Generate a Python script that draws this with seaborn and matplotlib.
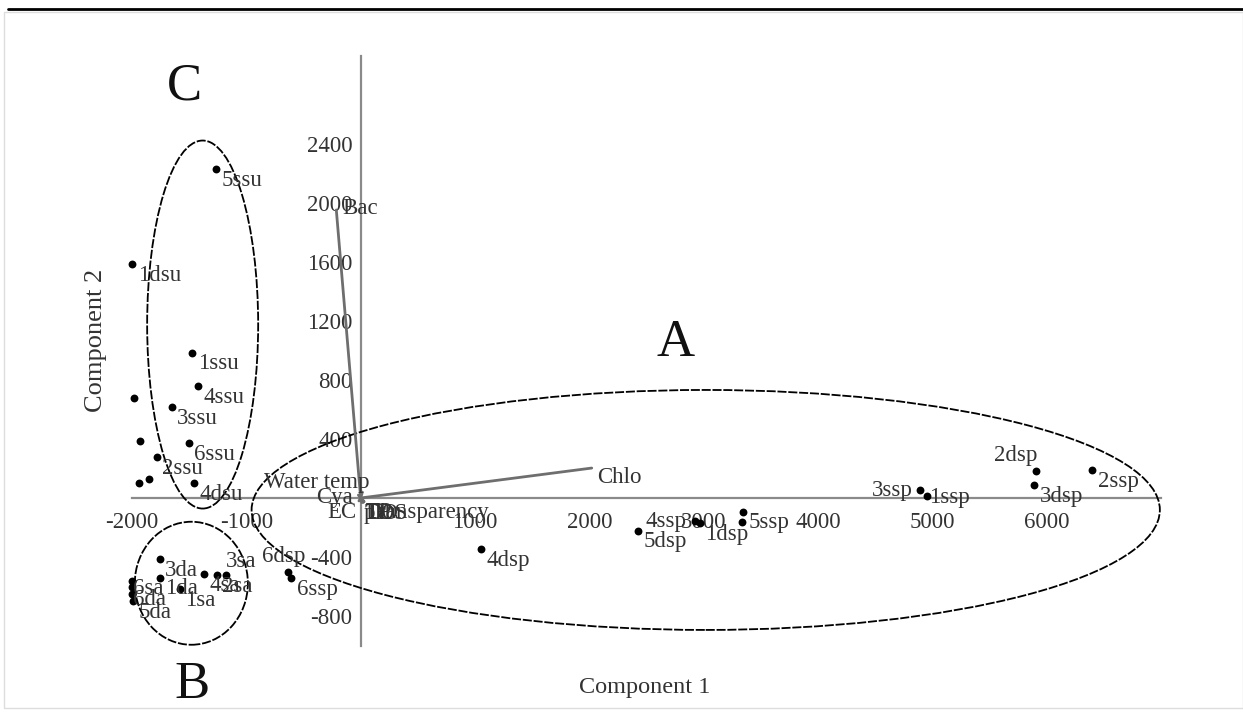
import matplotlib
matplotlib.use("Agg")
import matplotlib.pyplot as plt
import seaborn as sns
import pandas as pd
from matplotlib.patches import Ellipse, Rectangle
from matplotlib.lines import Line2D

# sample scores (Component 1, Component 2)
site_labels = ["5ssu", "1dsu", "1ssu", "4ssu", "", "3ssu", "", "6ssu", "2ssu", "", "", "4dsu",
               "3da", "1da", "1sa", "4sa", "2sa", "3sa", "6sa", "", "6da", "5da",
               "6dsp", "6ssp", "4dsp", "5dsp", "4ssp", "1dsp", "", "5ssp",
               "3ssp", "1ssp", "2dsp", "3dsp", "2ssp"]
pc1 = [-1269, -2000, -1473, -1423, -1986, -1654, -1934, -1502, -1782, -1852, -1942, -1458,
       -1759, -1759, -1584, -1374, -1260, -1181, -2000, -2000, -2000, -1995,
       -636, -606, 1056, 2426, 2922, 2966, 3331, 3345,
       4891, 4949, 5906, 5888, 6398]
pc2 = [2230, 1586, 985, 759, 676, 615, 389, 371, 276, 127, 100, 100,
       -415, -540, -617, -517, -522, -522, -560, -600, -650, -700,
       -500, -544, -348, -222, -156, -172, -160, -93,
       54, 14, 185, 88, 190]

# variable loadings (biplot vectors)
var_names = ["Bac", "Chlo", "Water temp", "Cya", "EC", "Transparency", "TDS", "DO", "pH", "TP"]
var_pc1 = [-213, 2021, 15, -20, -15, 30, 20, 25, 10, 28]
var_pc2 = [1953, 203, 40, 20, -20, -25, -30, -28, -30, -22]

# group ellipses: centre x, centre y, width, height
group_names = ["A", "B", "C"]
ell_cx = [3018, -1481, -1382]
ell_cy = [-81, -578, 1176]
ell_w = [7944, 989, 971]
ell_h = [1627, 834, 2495]

x_ticks = [-2000, -1000, 1000, 2000, 3000, 4000, 5000, 6000]
y_ticks = [-800, -400, 400, 800, 1200, 1600, 2000, 2400]

# label offsets (points) that differ from the default
point_offsets = {
    "3sa": (0, 10, "left"),
    "6dsp": (-3, 11, "center"),
    "4ssp": (-6, 0, "right"),
    "3ssp": (-5, 0, "right"),
    "1ssp": (2, -1, "left"),
    "2dsp": (1, 11, "right"),
    "6sa": (1, -6, "left"),
    "6da": (1, -4, "left"),
}
var_offsets = {
    "Bac": (4, 1, "left"),
    "Chlo": (4, -7, "left"),
    "Water temp": (5, 7, "right"),
    "Cya": (-4, -1.5, "right"),
    "EC": (-1.5, -8.5, "right"),
}

sns.set_style("white")
plt.rcParams["font.family"] = ["Liberation Serif", "DejaVu Serif"]
plt.rcParams["axes.unicode_minus"] = False

fig = plt.figure(figsize=(12.43, 7.12), dpi=100)
ax = fig.add_axes([132 / 1243, 1 - 645.5 / 712, 1029 / 1243, 590 / 712])

scores = pd.DataFrame({"pc1": pc1, "pc2": pc2, "label": site_labels})
sns.scatterplot(data=scores, x="pc1", y="pc2", color="black", s=32,
                edgecolor="black", linewidth=0, ax=ax, zorder=4, clip_on=False)

for lab, x, y in zip(site_labels, pc1, pc2):
    if not lab:
        continue
    dx, dy, ha = point_offsets.get(lab, (4, -8, "left"))
    ax.annotate(lab, (x, y), xytext=(dx, dy), textcoords="offset points",
                ha=ha, va="center", fontsize=16.5, color="#333333", zorder=5,
                annotation_clip=False)

for name, vx, vy in zip(var_names, var_pc1, var_pc2):
    ax.plot([0, vx], [0, vy], color="#6e6e6e", lw=2, zorder=3)
    dx, dy, ha = var_offsets.get(name, (1, -8, "left"))
    ax.annotate(name, (vx, vy), xytext=(dx, dy), textcoords="offset points",
                ha=ha, va="center", fontsize=16.5, color="#333333", zorder=5,
                annotation_clip=False)

for cx, cy, w, h in zip(ell_cx, ell_cy, ell_w, ell_h):
    ax.add_patch(Ellipse((cx, cy), w, h, fill=False, edgecolor="black",
                         lw=1.3, linestyle=(0, (5, 1)), clip_on=False, zorder=2))

# group letters
ax.text(2756, 1051, "A", fontsize=38, ha="center", va="center", color="#111111")
ax.text(-1479, -1268, "B", fontsize=38, ha="center", va="center", color="#111111", clip_on=False)
ax.text(-1540, 2790, "C", fontsize=38, ha="center", va="center", color="#111111")

ax.set_xlim(-2000, 7000)
ax.set_ylim(-1000, 3000)
ax.spines["left"].set_position(("data", 0))
ax.spines["bottom"].set_position(("data", 0))
ax.spines["top"].set_visible(False)
ax.spines["right"].set_visible(False)
for side in ["left", "bottom"]:
    ax.spines[side].set_color("#8a8a8a")
    ax.spines[side].set_linewidth(1.6)
    ax.spines[side].set_zorder(1)
ax.set_xticks(x_ticks)
ax.set_yticks(y_ticks)
ax.tick_params(axis="x", direction="in", length=4, width=1, color="#8a8a8a",
               pad=10, labelsize=16.5, labelcolor="#333333")
ax.tick_params(axis="y", direction="out", length=4, width=1, color="#8a8a8a",
               pad=2, labelsize=16.5, labelcolor="#333333")
ax.set_xlabel("")
ax.set_ylabel("")
ax.patch.set_alpha(0)

fig.text(645 / 1243, 1 - 688 / 712, "Component 1", fontsize=17.5, ha="center",
         va="center", color="#333333")
fig.text(96 / 1243, 1 - 340 / 712, "Component 2", fontsize=19, ha="center",
         va="center", rotation=90, color="#333333")

# page frame of the scanned figure
fig.add_artist(Rectangle((4 / 1243, 4 / 712), 1 - 4 / 1243, 1 - 16 / 712,
                         transform=fig.transFigure, fill=False,
                         edgecolor="#dddddd", lw=1))
fig.add_artist(Line2D([8 / 1243, 1], [1 - 9 / 712, 1 - 9 / 712],
                      transform=fig.transFigure, color="black", lw=2))

fig.savefig("out.png", dpi=100, facecolor="white")
